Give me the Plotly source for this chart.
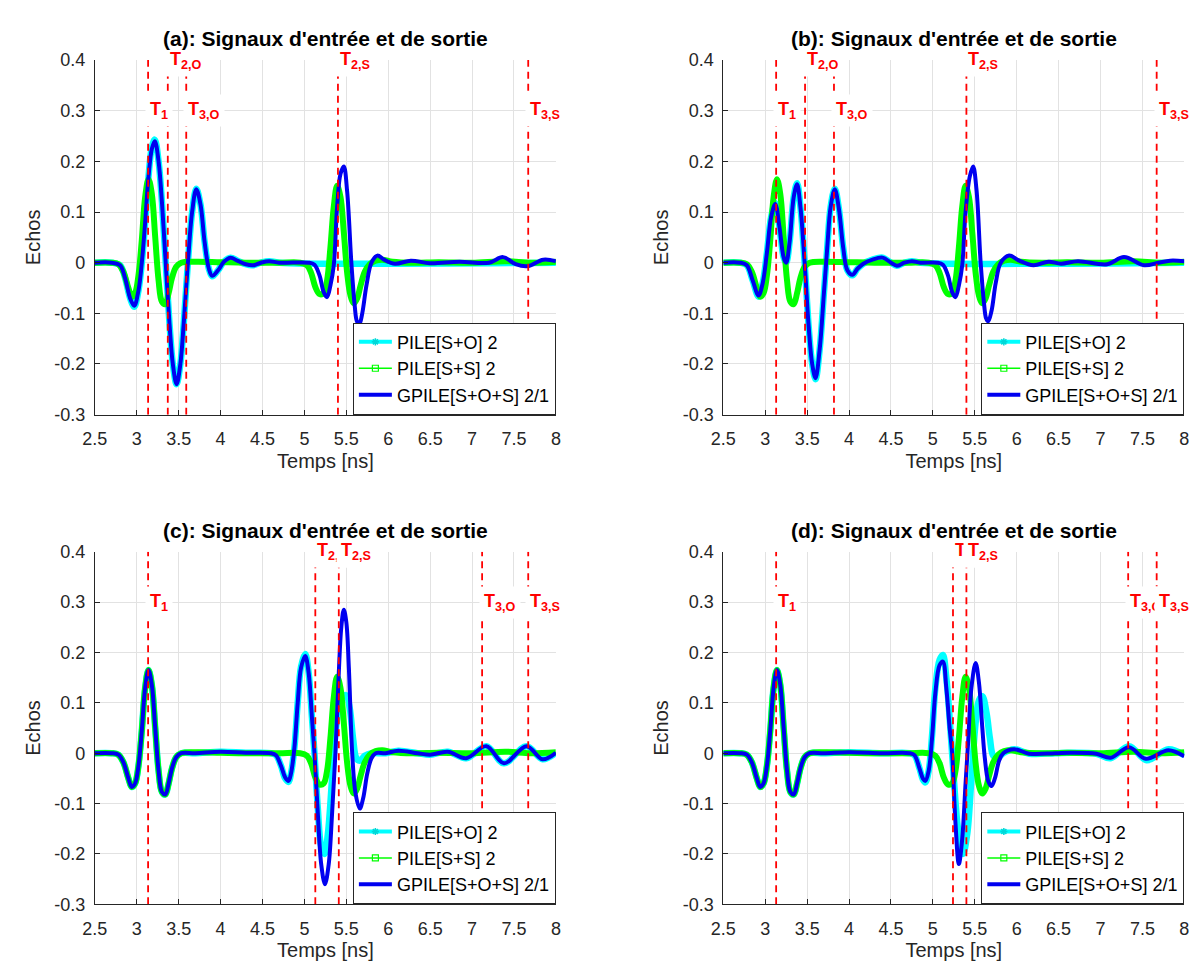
import plotly.graph_objects as go

# axes ticks
x_ticks = [2.5, 3, 3.5, 4, 4.5, 5, 5.5, 6, 6.5, 7, 7.5, 8]
x_ticktext = ["2.5", "3", "3.5", "4", "4.5", "5", "5.5", "6", "6.5", "7", "7.5", "8"]
y_ticks = [-0.3, -0.2, -0.1, 0, 0.1, 0.2, 0.3, 0.4]
y_ticktext = ["-0.3", "-0.2", "-0.1", "0", "0.1", "0.2", "0.3", "0.4"]

panel_titles = ["(a): Signaux d'entrée et de sortie", "(b): Signaux d'entrée et de sortie",
                "(c): Signaux d'entrée et de sortie", "(d): Signaux d'entrée et de sortie"]
legend_names = ["PILE[S+O] 2", "PILE[S+S] 2", "GPILE[S+O+S] 2/1"]

# PILE[S+S] 2 : same curve on the four panels
ss_t = [2.5, 2.7, 2.78, 2.84, 2.9, 2.94, 2.98, 3.02, 3.06, 3.1, 3.14, 3.18, 3.22, 3.26, 3.3, 3.34, 3.38, 3.42, 3.47, 3.53,
        3.7, 4.0, 4.3, 4.7, 4.95, 5.03, 5.08, 5.13, 5.18, 5.23, 5.27, 5.31, 5.35, 5.39, 5.43, 5.47, 5.51, 5.55, 5.59, 5.63,
        5.67, 5.72, 5.78, 5.85, 5.93, 6.05, 6.3, 6.6, 7.0, 7.4, 7.7, 8.0]
ss_v = [0, 0, -0.003, -0.018, -0.05, -0.067, -0.06, -0.025, 0.045, 0.13, 0.165, 0.135, 0.05, -0.035, -0.077, -0.082, -0.06, -0.03, -0.008, 0.0,
        0.002, 0.001, 0.0, 0.0, 0.0, -0.005, -0.02, -0.048, -0.062, -0.06, -0.035, 0.03, 0.11, 0.152, 0.13, 0.06, -0.02, -0.065, -0.08, -0.07,
        -0.045, -0.018, -0.003, 0.004, 0.006, 0.002, 0.0, 0.001, 0.0, 0.003, 0.0, 0.002]

# panel (a)
a_gp_t = [2.5, 2.7, 2.8, 2.86, 2.92, 2.97, 3.02, 3.06, 3.1, 3.14, 3.18, 3.215, 3.26, 3.3, 3.345, 3.39, 3.43, 3.475, 3.52, 3.56,
          3.61, 3.66, 3.71, 3.76, 3.81, 3.86, 3.9, 3.97, 4.04, 4.12, 4.2, 4.3, 4.39, 4.48, 4.58, 4.7, 5.05, 5.12, 5.18, 5.23,
          5.27, 5.31, 5.35, 5.39, 5.43, 5.47, 5.51, 5.56, 5.6, 5.625, 5.655, 5.69, 5.74, 5.8, 5.87, 5.95, 6.08, 6.27, 6.5, 6.85,
          7.2, 7.37, 7.52, 7.66, 7.85, 8.0]
a_gp_v = [0, 0, -0.005, -0.03, -0.07, -0.085, -0.055, 0.0, 0.08, 0.17, 0.225, 0.24, 0.2, 0.12, 0.0, -0.12, -0.2, -0.24, -0.2, -0.12,
          0.0, 0.1, 0.145, 0.115, 0.04, -0.012, -0.026, -0.015, 0.002, 0.01, 0.004, -0.003, -0.005, 0.0, 0.003, 0.0, 0.0, -0.004, -0.025, -0.058,
          -0.068, -0.045, -0.005, 0.11, 0.175, 0.19, 0.14, 0.0, -0.085, -0.115, -0.122, -0.1, -0.045, 0.0, 0.014, 0.006, -0.002, 0.004, -0.001, 0.002,
          0.0, 0.011, -0.003, -0.007, 0.006, 0.003]
a_so_t = [2.5, 2.7, 2.8, 2.86, 2.92, 2.97, 3.02, 3.06, 3.1, 3.14, 3.18, 3.215, 3.26, 3.3, 3.345, 3.39, 3.43, 3.475, 3.52, 3.56,
          3.61, 3.66, 3.71, 3.76, 3.81, 3.86, 3.9, 3.97, 4.04, 4.12, 4.2, 4.3, 4.39, 4.48, 4.58, 4.7, 8.0]
a_so_v = [0, 0, -0.005, -0.03, -0.07, -0.087, -0.055, 0.0, 0.08, 0.17, 0.228, 0.243, 0.2, 0.12, 0.0, -0.12, -0.2, -0.24, -0.2, -0.12,
          0.0, 0.1, 0.146, 0.115, 0.04, -0.012, -0.027, -0.015, 0.002, 0.01, 0.004, -0.003, -0.005, 0.0, 0.003, 0.0, 0.0]
a_marks = ["T<sub>1</sub>", "T<sub>2,O</sub>", "T<sub>3,O</sub>", "T<sub>2,S</sub>", "T<sub>3,S</sub>"]
a_mark_t = [3.135, 3.37, 3.59, 5.40, 7.67]
a_mark_y = [0.3, 0.4, 0.3, 0.4, 0.3]

# panel (b)
b_gp_t = [2.5, 2.7, 2.78, 2.85, 2.92, 2.97, 3.02, 3.07, 3.12, 3.17, 3.22, 3.25, 3.29, 3.34, 3.38, 3.42, 3.47, 3.52, 3.56, 3.6,
          3.65, 3.7, 3.74, 3.78, 3.83, 3.88, 3.93, 3.98, 4.04, 4.1, 4.17, 4.28, 4.4, 4.5, 4.57, 4.66, 4.75, 4.85, 5.05, 5.12,
          5.18, 5.23, 5.27, 5.31, 5.35, 5.39, 5.44, 5.48, 5.52, 5.57, 5.61, 5.635, 5.66, 5.7, 5.75, 5.81, 5.91, 6.03, 6.2, 6.38,
          6.53, 6.73, 7.08, 7.28, 7.52, 7.69, 7.83, 8.0]
b_gp_v = [0, 0, -0.005, -0.035, -0.065, -0.04, 0.02, 0.09, 0.116, 0.07, 0.01, 0.0, 0.04, 0.13, 0.155, 0.11, 0.0, -0.13, -0.2, -0.228,
          -0.17, -0.06, 0.03, 0.11, 0.145, 0.105, 0.03, -0.015, -0.024, -0.012, -0.002, 0.006, 0.01, 0.0, -0.006, 0.0, 0.003, 0.0, 0.0, -0.004,
          -0.025, -0.058, -0.068, -0.045, -0.005, 0.1, 0.17, 0.19, 0.145, 0.0, -0.08, -0.11, -0.116, -0.095, -0.04, 0.0, 0.014, 0.004, -0.005, 0.002,
          -0.002, 0.003, -0.003, 0.011, -0.005, 0.0, 0.004, 0.003]
b_so_t = [2.5, 2.7, 2.78, 2.85, 2.92, 2.97, 3.02, 3.07, 3.12, 3.17, 3.22, 3.25, 3.29, 3.34, 3.38, 3.42, 3.47, 3.52, 3.56, 3.6,
          3.65, 3.7, 3.74, 3.78, 3.83, 3.88, 3.93, 3.98, 4.04, 4.1, 4.17, 4.28, 4.4, 4.5, 4.57, 4.66, 4.75, 4.85, 8.0]
b_so_v = [0, 0, -0.005, -0.035, -0.067, -0.04, 0.02, 0.09, 0.118, 0.07, 0.01, 0.0, 0.04, 0.13, 0.157, 0.11, 0.0, -0.13, -0.2, -0.23,
          -0.17, -0.06, 0.03, 0.11, 0.146, 0.105, 0.03, -0.015, -0.025, -0.012, -0.002, 0.006, 0.01, 0.0, -0.006, 0.0, 0.003, 0.0, 0.0]
b_marks = ["T<sub>1</sub>", "T<sub>2,O</sub>", "T<sub>3,O</sub>", "T<sub>2,S</sub>", "T<sub>3,S</sub>"]
b_mark_t = [3.13, 3.475, 3.82, 5.40, 7.67]
b_mark_y = [0.3, 0.4, 0.3, 0.4, 0.3]

# panel (c)
c_gp_t = [2.5, 2.7, 2.78, 2.84, 2.9, 2.94, 2.98, 3.02, 3.06, 3.1, 3.14, 3.18, 3.22, 3.26, 3.3, 3.34, 3.38, 3.42, 3.47, 3.53,
          3.7, 4.0, 4.3, 4.6, 4.66, 4.72, 4.77, 4.81, 4.84, 4.88, 4.92, 4.96, 5.01, 5.05, 5.09, 5.12, 5.16, 5.2, 5.245, 5.29,
          5.33, 5.37, 5.41, 5.44, 5.47, 5.5, 5.53, 5.57, 5.61, 5.66, 5.7, 5.75, 5.8, 5.85, 5.97, 6.12, 6.35, 6.5, 6.71, 6.93,
          7.17, 7.38, 7.65, 7.84, 8.0]
c_gp_v = [0, 0, -0.003, -0.018, -0.05, -0.067, -0.06, -0.025, 0.045, 0.13, 0.165, 0.135, 0.05, -0.035, -0.077, -0.082, -0.06, -0.03, -0.008, 0.0,
          0.0, 0.003, 0.001, 0.0, -0.004, -0.025, -0.048, -0.055, -0.04, 0.01, 0.1, 0.17, 0.193, 0.16, 0.07, 0.0, -0.12, -0.22, -0.26, -0.22,
          -0.12, 0.0, 0.16, 0.25, 0.285, 0.26, 0.17, 0.0, -0.08, -0.11, -0.09, -0.04, -0.01, 0.0, 0.0, 0.005, 0.0, -0.003, 0.003, -0.01,
          0.014, -0.02, 0.014, -0.012, 0.001]
c_so_t = [2.5, 2.7, 2.78, 2.84, 2.9, 2.94, 2.98, 3.02, 3.06, 3.1, 3.14, 3.18, 3.22, 3.26, 3.3, 3.34, 3.38, 3.42, 3.47, 3.53,
          3.7, 4.0, 4.3, 4.6, 4.66, 4.72, 4.77, 4.81, 4.84, 4.88, 4.92, 4.96, 5.01, 5.05, 5.09, 5.12, 5.16, 5.2, 5.24, 5.28,
          5.33, 5.37, 5.41, 5.45, 5.5, 5.54, 5.58, 5.62, 5.66, 5.72, 5.8, 5.97, 6.12, 6.35, 6.5, 6.71, 6.93, 7.17, 7.38, 7.65,
          7.84, 8.0]
c_so_v = [0, 0, -0.003, -0.018, -0.05, -0.067, -0.06, -0.025, 0.045, 0.13, 0.165, 0.135, 0.05, -0.035, -0.077, -0.082, -0.06, -0.03, -0.008, 0.0,
          0.0, 0.003, 0.001, 0.0, -0.004, -0.025, -0.05, -0.057, -0.04, 0.01, 0.1, 0.172, 0.197, 0.16, 0.07, 0.0, -0.11, -0.185, -0.2, -0.16,
          -0.05, 0.04, 0.09, 0.112, 0.115, 0.09, 0.03, -0.01, -0.015, -0.005, 0.0, 0.0, 0.005, 0.0, -0.003, 0.003, -0.01, 0.014, -0.02, 0.014,
          -0.012, 0.001]
c_marks = ["T<sub>1</sub>", "T<sub>2,O</sub>", "T<sub>2,S</sub>", "T<sub>3,O</sub>", "T<sub>3,S</sub>"]
c_mark_t = [3.135, 5.13, 5.41, 7.12, 7.67]
c_mark_y = [0.3, 0.4, 0.4, 0.3, 0.3]

# panel (d)
d_gp_t = [2.5, 2.7, 2.78, 2.84, 2.9, 2.94, 2.98, 3.02, 3.06, 3.1, 3.14, 3.18, 3.22, 3.26, 3.3, 3.34, 3.38, 3.42, 3.47, 3.53,
          3.7, 4.0, 4.4, 4.72, 4.78, 4.84, 4.88, 4.91, 4.95, 4.99, 5.03, 5.08, 5.12, 5.16, 5.2, 5.23, 5.27, 5.31, 5.35, 5.39,
          5.42, 5.46, 5.51, 5.55, 5.59, 5.62, 5.66, 5.7, 5.74, 5.79, 5.84, 5.97, 6.15, 6.46, 6.65, 6.95, 7.12, 7.34, 7.54, 7.81,
          8.0]
d_gp_v = [0, 0, -0.003, -0.018, -0.05, -0.067, -0.06, -0.025, 0.045, 0.13, 0.165, 0.135, 0.05, -0.035, -0.077, -0.082, -0.06, -0.03, -0.008, 0.0,
          0.0, 0.002, 0.0, 0.0, -0.004, -0.03, -0.05, -0.055, -0.035, 0.03, 0.12, 0.175, 0.182, 0.13, 0.05, 0.0, -0.14, -0.22, -0.17, -0.06,
          0.02, 0.13, 0.179, 0.14, 0.05, -0.01, -0.055, -0.065, -0.05, -0.015, 0.0, 0.008, -0.001, 0.0, 0.001, -0.001, -0.009, 0.012, -0.011, 0.006,
          -0.006]
d_so_t = [2.5, 2.7, 2.78, 2.84, 2.9, 2.94, 2.98, 3.02, 3.06, 3.1, 3.14, 3.18, 3.22, 3.26, 3.3, 3.34, 3.38, 3.42, 3.47, 3.53,
          3.7, 4.0, 4.4, 4.72, 4.78, 4.84, 4.88, 4.91, 4.95, 4.99, 5.03, 5.08, 5.12, 5.16, 5.2, 5.25, 5.3, 5.36, 5.41, 5.46,
          5.51, 5.55, 5.59, 5.64, 5.68, 5.72, 5.77, 5.84, 5.97, 6.15, 6.46, 6.65, 6.95, 7.12, 7.34, 7.55, 7.81, 8.0]
d_so_v = [0, 0, -0.003, -0.018, -0.05, -0.067, -0.06, -0.025, 0.045, 0.13, 0.165, 0.135, 0.05, -0.035, -0.077, -0.082, -0.06, -0.03, -0.008, 0.0,
          0.0, 0.002, 0.0, 0.0, -0.004, -0.03, -0.052, -0.058, -0.035, 0.035, 0.13, 0.185, 0.195, 0.15, 0.07, -0.05, -0.15, -0.2, -0.16, -0.05,
          0.06, 0.105, 0.113, 0.08, 0.03, -0.005, -0.01, 0.0, 0.008, -0.001, 0.0, 0.001, -0.001, -0.01, 0.014, -0.014, 0.008, -0.004]
d_marks = ["T<sub>1</sub>", "T<sub>2,O</sub>", "T<sub>2,S</sub>", "T<sub>3,O</sub>", "T<sub>3,S</sub>"]
d_mark_t = [3.13, 5.24, 5.40, 7.33, 7.67]
d_mark_y = [0.3, 0.4, 0.4, 0.3, 0.3]

panels = [
    (a_so_t, a_so_v, a_gp_t, a_gp_v, a_marks, a_mark_t, a_mark_y),
    (b_so_t, b_so_v, b_gp_t, b_gp_v, b_marks, b_mark_t, b_mark_y),
    (c_so_t, c_so_v, c_gp_t, c_gp_v, c_marks, c_mark_t, c_mark_y),
    (d_so_t, d_so_v, d_gp_t, d_gp_v, d_marks, d_mark_t, d_mark_y),
]

W, H = 1203, 968
FONT = "Liberation Sans, Arial, sans-serif"
AXC = "#262626"
CYAN, GREEN, BLUE, RED = "#00ffff", "#00ff00", "#0000f0", "#ff0000"

# plot boxes in pixels (left, right, top, bottom)
boxes = [(75, 543, 43, 405), (713, 1181, 43, 405), (75, 543, 545, 905), (713, 1181, 545, 905)]

fig = go.Figure()
layout = dict(width=W, height=H, margin=dict(l=0, r=0, t=0, b=0),
              paper_bgcolor="white", plot_bgcolor="white",
              font=dict(family=FONT, color=AXC), annotations=[], shapes=[])

for i, (so_t, so_v, gp_t, gp_v, marks, mark_t, mark_y) in enumerate(panels):
    n = "" if i == 0 else str(i + 1)
    xa, ya = "x" + n, "y" + n
    lg = "legend" + n
    l, r, t, b = boxes[i]
    xd = [l / W, r / W]
    yd = [1 - b / H, 1 - t / H]

    layout["xaxis" + n] = dict(domain=xd, anchor=ya, range=[2.5, 8], tickvals=x_ticks, ticktext=x_ticktext,
                               showgrid=True, gridcolor="#e2e2e2", gridwidth=1, zeroline=False,
                               showline=True, linecolor=AXC, linewidth=1, ticks="inside", ticklen=5,
                               tickcolor=AXC, tickfont=dict(size=18, color=AXC), ticklabelstandoff=8,
                               title=dict(text="Temps [ns]", font=dict(size=20, color=AXC), standoff=5))
    layout["yaxis" + n] = dict(domain=yd, anchor=xa, range=[-0.3, 0.4], tickvals=y_ticks, ticktext=y_ticktext,
                               showgrid=True, gridcolor="#e2e2e2", gridwidth=1, zeroline=False,
                               showline=True, linecolor=AXC, linewidth=1, ticks="inside", ticklen=5,
                               tickcolor=AXC, tickfont=dict(size=18, color=AXC), ticklabelstandoff=5,
                               title=dict(text="Echos", font=dict(size=20, color=AXC), standoff=8))

    # curves
    fig.add_trace(go.Scatter(x=so_t, y=so_v, mode="lines", line=dict(color=CYAN, width=6.5, shape="spline"),
                             xaxis=xa, yaxis=ya, showlegend=False, hoverinfo="skip"))
    fig.add_trace(go.Scatter(x=ss_t, y=ss_v, mode="lines", line=dict(color=GREEN, width=6, shape="spline"),
                             xaxis=xa, yaxis=ya, showlegend=False, hoverinfo="skip"))
    fig.add_trace(go.Scatter(x=gp_t, y=gp_v, mode="lines", line=dict(color=BLUE, width=4, shape="spline"),
                             xaxis=xa, yaxis=ya, showlegend=False, hoverinfo="skip"))

    # legend entries
    fig.add_trace(go.Scatter(x=[None], y=[None], mode="lines+markers", name=legend_names[0],
                             line=dict(color=CYAN, width=4), marker=dict(symbol="asterisk-open", size=6, color="#00d8d8",
                                                                          line=dict(width=1.5, color="#00d8d8")),
                             xaxis=xa, yaxis=ya, legend=lg))
    fig.add_trace(go.Scatter(x=[None], y=[None], mode="lines+markers", name=legend_names[1],
                             line=dict(color=GREEN, width=1.5), marker=dict(symbol="square-open", size=6, color=GREEN,
                                                                            line=dict(width=1.2, color="#00cc00")),
                             xaxis=xa, yaxis=ya, legend=lg))
    fig.add_trace(go.Scatter(x=[None], y=[None], mode="lines", name=legend_names[2],
                             line=dict(color=BLUE, width=4), xaxis=xa, yaxis=ya, legend=lg))
    layout[lg] = dict(x=xd[1], y=yd[0], xanchor="right", yanchor="bottom", bgcolor="white",
                      bordercolor=AXC, borderwidth=1, font=dict(size=18, color="black", family=FONT),
                      itemwidth=33, tracegroupgap=0, traceorder="normal")

    # time markers
    for name, tm, lv in zip(marks, mark_t, mark_y):
        layout["shapes"].append(dict(type="line", xref=xa, yref=ya, x0=tm, x1=tm, y0=-0.3, y1=0.4, layer="above",
                                     line=dict(color=RED, width=1.8, dash="7px,5px")))
    for name, tm, lv in zip(marks, mark_t, mark_y):
        layout["annotations"].append(dict(xref=xa, yref=ya, x=tm, y=lv, text="<b>" + name + "</b>", showarrow=False,
                                          xanchor="left", yanchor="middle", xshift=-3, bgcolor="white", borderpad=4,
                                          font=dict(size=18, color=RED, family=FONT)))

    # panel title
    layout["annotations"].append(dict(xref="paper", yref="paper", x=(xd[0] + xd[1]) / 2, y=1 - (t - 22) / H,
                                      text="<b>" + panel_titles[i] + "</b>", showarrow=False,
                                      xanchor="center", yanchor="middle", font=dict(size=21, color="black", family=FONT)))

fig.update_layout(**layout)
fig.write_html("out.html")
